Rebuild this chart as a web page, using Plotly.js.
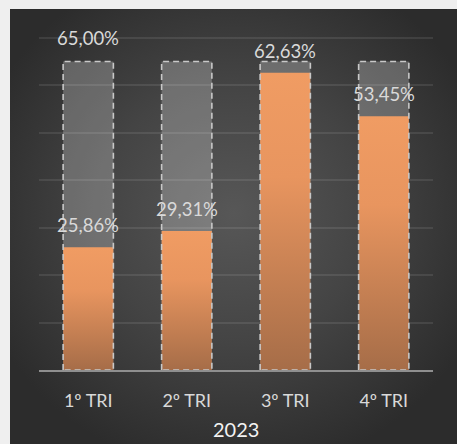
<!DOCTYPE html>
<html>
<head>
<meta charset="utf-8">
<script src="https://cdn.plot.ly/plotly-3.0.1.min.js"></script>
<style>
  html, body { margin: 0; padding: 0; background: #efefef; width: 457px; height: 444px; overflow: hidden; }
  #chart {
    position: absolute; left: 10px; top: 9px; width: 447px; height: 435px;
    background: radial-gradient(ellipse 60% 60% at 50% 47%, #575757 0%, #444444 50%, #2c2c2c 100%);
  }
</style>
</head>
<body>
<div id="chart"></div>
<script>
const categories = ['1º TRI', '2º TRI', '3º TRI', '4º TRI'];
const actual = [25.86, 29.31, 62.63, 53.45];
const target = [65, 65, 65, 65];
const targetLabelShown = [true, false, false, false];
const yearLabel = '2023';

const fmt = v => v.toFixed(2).replace('.', ',') + '%';
const FONT = 'Lato, "Open Sans", sans-serif';

const traces = [
  { type: 'bar', x: categories, y: target, width: 0.51,
    marker: { color: 'rgba(255,255,255,0.24)', line: { width: 0 } }, hoverinfo: 'skip' },
  { type: 'bar', x: categories, y: actual, width: 0.51,
    marker: { color: '#ec9860', line: { width: 0 } }, hoverinfo: 'skip' },
  { type: 'bar', x: categories, y: target, width: 0.51,
    marker: { color: 'rgba(0,0,0,0)', line: { width: 1.6, color: '#c8c8c8' } }, hoverinfo: 'skip' }
];

const annotations = [];
actual.forEach((v, i) => {
  annotations.push({ x: categories[i], y: v, xref: 'x', yref: 'y', text: fmt(v), showarrow: false,
    yanchor: 'middle', yshift: 22, font: { family: FONT, size: 18.5, color: '#d9d9d9' } });
});
target.forEach((v, i) => {
  if (targetLabelShown[i]) annotations.push({ x: categories[i], y: v, xref: 'x', yref: 'y', text: fmt(v), showarrow: false,
    yanchor: 'middle', yshift: 23, font: { family: FONT, size: 18.5, color: '#d9d9d9' } });
});
annotations.push({ x: 0.5, y: -0.175, xref: 'paper', yref: 'paper', text: yearLabel, showarrow: false,
  yanchor: 'middle', font: { family: FONT, size: 20, color: '#f2f2f2' } });

const layout = {
  width: 447, height: 435,
  margin: { l: 29, r: 24, t: 24, b: 74 },
  paper_bgcolor: 'rgba(0,0,0,0)', plot_bgcolor: 'rgba(0,0,0,0)',
  barmode: 'overlay', showlegend: false,
  font: { family: FONT },
  xaxis: { type: 'category', showgrid: false, showline: true, linecolor: '#8f8f8f', linewidth: 2,
    ticks: '', ticklabelstandoff: 13, tickfont: { family: FONT, size: 18, color: '#d9d9d9' }, fixedrange: true },
  yaxis: { range: [0, 71], dtick: 10, showticklabels: false, showgrid: true,
    gridcolor: 'rgba(255,255,255,0.09)', gridwidth: 2, zeroline: false, showline: false, fixedrange: true },
  annotations: annotations
};

Plotly.newPlot('chart', traces, layout, { staticPlot: true, displayModeBar: false }).then(gd => {
  const svg = gd.querySelector('.main-svg');
  const ns = 'http://www.w3.org/2000/svg';
  let defs = svg.querySelector('defs');
  const grad = document.createElementNS(ns, 'linearGradient');
  grad.setAttribute('id', 'orangeGrad');
  grad.setAttribute('x1', '0'); grad.setAttribute('y1', '0');
  grad.setAttribute('x2', '0'); grad.setAttribute('y2', '1');
  [['0', '#f09c63'], ['0.35', '#e8955f'], ['1', '#a66d48']].forEach(([o, c]) => {
    const s = document.createElementNS(ns, 'stop');
    s.setAttribute('offset', o); s.setAttribute('stop-color', c);
    grad.appendChild(s);
  });
  defs.appendChild(grad);
  const tr = gd.querySelectorAll('.barlayer .trace');
  tr[1].querySelectorAll('path').forEach(p => { p.style.fill = 'url(#orangeGrad)'; });
  tr[2].querySelectorAll('path').forEach(p => { p.style.strokeDasharray = '6,4'; });
});
</script>
</body>
</html>
